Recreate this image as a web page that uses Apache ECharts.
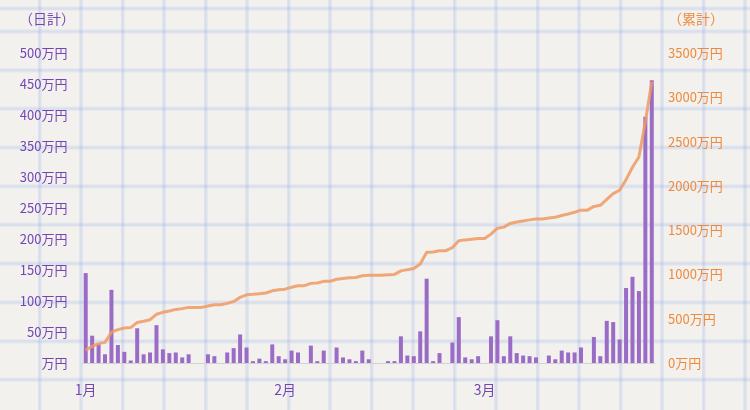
<!DOCTYPE html>
<html>
<head>
<meta charset="utf-8">
<script src="https://cdn.jsdelivr.net/npm/echarts@6/dist/echarts.min.js"></script>
<style>
html,body{margin:0;padding:0;}
#chart{
  width:750px;height:410px;
  background-color:#f2f1ee;
  background-image:
    repeating-linear-gradient(to right, transparent 0px, transparent 37.5px, rgba(160,180,232,0.14) 37.5px, rgba(150,172,232,0.30) 39.5px, rgba(160,180,232,0.14) 41.5px, transparent 41.5px, transparent 40px),
    repeating-linear-gradient(to bottom, transparent 0px, transparent 1px, rgba(160,180,232,0.14) 1px, rgba(150,172,232,0.30) 3px, rgba(160,180,232,0.14) 5px, transparent 5px, transparent 38.7px);
  background-position: 0 0, 0 28.5px;
}
</style>
</head>
<body>
<div id="chart"></div>
<script>
// categories: daily, Jan 1 – Mar 30
const categories = [
 '1/1','1/2','1/3','1/4','1/5','1/6','1/7','1/8','1/9','1/10','1/11','1/12','1/13','1/14','1/15','1/16','1/17','1/18','1/19','1/20','1/21','1/22','1/23','1/24','1/25','1/26','1/27','1/28','1/29','1/30','1/31',
 '2/1','2/2','2/3','2/4','2/5','2/6','2/7','2/8','2/9','2/10','2/11','2/12','2/13','2/14','2/15','2/16','2/17','2/18','2/19','2/20','2/21','2/22','2/23','2/24','2/25','2/26','2/27','2/28',
 '3/1','3/2','3/3','3/4','3/5','3/6','3/7','3/8','3/9','3/10','3/11','3/12','3/13','3/14','3/15','3/16','3/17','3/18','3/19','3/20','3/21','3/22','3/23','3/24','3/25','3/26','3/27','3/28','3/29','3/30'
];
// daily amount (万円)
const daily = [
 145,44,30,14,118,29,18,4,56,14,17,61,22,16,17,9,14,0,0,14,11,0,17,24,46,25,3,7,3,30,
 11,6,20,17,0,28,3,20,0,25,9,6,3,20,6,0,0,3,3,43,12,11,51,136,3,16,0,33,74,9,
 6,11,0,43,69,11,43,16,12,11,9,0,12,6,20,17,17,25,0,42,11,68,66,38,121,139,116,397,456
];
// cumulative amount (万円)
const cumulative = [
 145,189,219,233,348,377,395,400,458,472,489,550,572,588,605,614,628,628,628,644,658,658,673,694,741,770,775,782,790,815,
 828,834,855,873,873,899,903,922,922,945,955,962,966,985,992,992,992,996,1000,1040,1054,1066,1118,1250,1254,1268,1268,1303,1380,1390,
 1396,1406,1406,1455,1522,1534,1576,1592,1604,1616,1625,1625,1638,1645,1665,1683,1702,1726,1726,1768,1780,1848,1912,1950,2070,2210,2326,2722,3175
];
const leftTicks = {min:0, max:500, interval:50};
const rightTicks = {min:0, max:3500, interval:500};

const FONT = '"Noto Sans CJK JP", "Noto Sans", sans-serif';
const PURPLE_TXT = '#7446b2';
const ORANGE_TXT = '#ee8a3e';

const chart = echarts.init(document.getElementById('chart'), null, {renderer:'canvas'});
chart.setOption({
  backgroundColor: 'transparent',
  animation: false,
  grid: {left: 82.5, right: 95, top: 53, bottom: 47, containLabel: false},
  graphic: [
    {type:'text', left: 19, top: 12, style:{text:'（日計）', fill: PURPLE_TXT, font: '14px ' + FONT}},
    {type:'text', left: 668, top: 12, style:{text:'（累計）', fill: ORANGE_TXT, font: '14px ' + FONT}}
  ],
  xAxis: {
    type: 'category',
    data: categories,
    boundaryGap: true,
    axisLine: {show: true, lineStyle: {color: '#d2d2d2', width: 1}},
    axisTick: {show: false},
    axisLabel: {
      interval: 30,
      margin: 20,
      color: PURPLE_TXT,
      fontSize: 14,
      fontFamily: FONT,
      formatter: v => v.split('/')[0] + '月'
    },
    splitLine: {show: false}
  },
  yAxis: [
    {
      type: 'value',
      min: leftTicks.min, max: leftTicks.max, interval: leftTicks.interval,
      axisLine: {show: false}, axisTick: {show: false}, splitLine: {show: false},
      axisLabel: {
        margin: 15, color: PURPLE_TXT, fontSize: 13, fontFamily: FONT,
        formatter: v => (v === 0 ? '' : v) + '万円'
      }
    },
    {
      type: 'value',
      min: rightTicks.min, max: rightTicks.max, interval: rightTicks.interval,
      axisLine: {show: false}, axisTick: {show: false}, splitLine: {show: false},
      axisLabel: {
        margin: 13, color: ORANGE_TXT, fontSize: 13, fontFamily: FONT,
        formatter: v => v + '万円'
      }
    }
  ],
  series: [
    {
      name: '日計',
      type: 'bar',
      yAxisIndex: 0,
      data: daily,
      barWidth: 4,
      itemStyle: {color: '#9a6cc6'},
      z: 2
    },
    {
      name: '累計',
      type: 'line',
      yAxisIndex: 1,
      data: cumulative,
      symbol: 'none',
      smooth: false,
      lineStyle: {color: '#f09a62', width: 3, opacity: 0.85},
      z: 3
    }
  ]
});
</script>
</body>
</html>
